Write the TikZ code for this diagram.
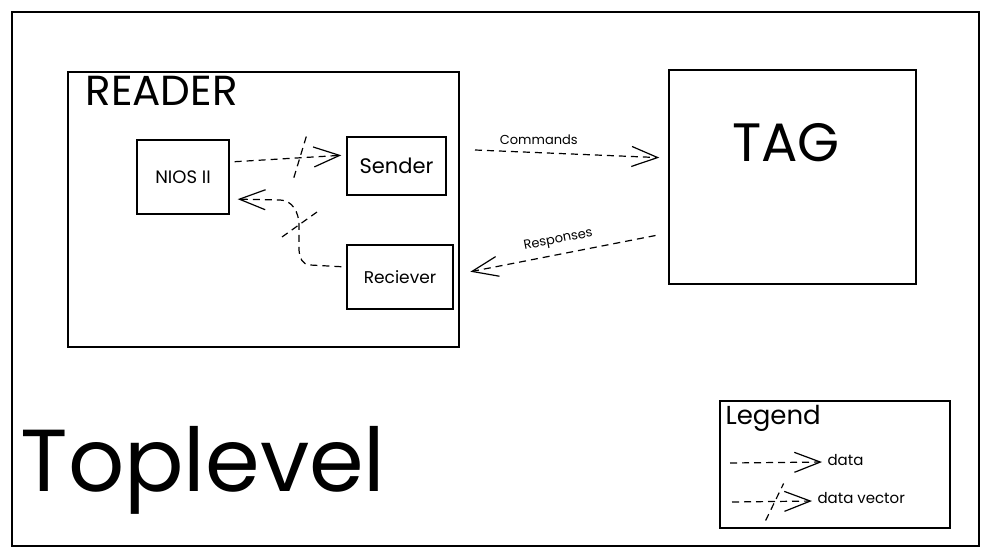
\documentclass[tikz,border=0pt]{standalone}
\usepackage{fontspec}
\setmainfont{Poppins}
\usetikzlibrary{arrows.meta,positioning,calc}

\tikzset{
  box/.style={draw, line width=1.4pt, inner sep=0pt},
  dataflow/.style={dash pattern=on 7pt off 5pt, line width=1.2pt,
    -{Straight Barb[length=26pt,width=20pt,line width=1.2pt]}},
  vecmark/.style={dash pattern=on 7pt off 5pt, line width=1.2pt},
  fs/.style={font=\fontsize{#1}{#1}\selectfont},
}

\begin{document}
\begin{tikzpicture}[x=1pt,y=-1pt]
  \useasboundingbox (0,0) rectangle (989,554);
  \draw[line width=1.4pt] (12,12) rectangle (979,546);
  % reader side
  \node[box, minimum width=391pt, minimum height=275pt] (reader) at (263.5,209.5) {};
  \node[anchor=north west, fs=42] (readerlbl) at (82,73) {READER};
  \node[box, minimum width=92pt, minimum height=74pt, fs=18] (nios) at (183,177) {NIOS II};
  \node[box, minimum width=99pt, minimum height=58pt, fs=21] (sender) at (396.5,166) {Sender};
  \node[box, minimum width=106pt, minimum height=64pt, fs=17] (receiver) at (400,277) {Reciever};
  % tag side
  \node[box, minimum width=247pt, minimum height=214pt] (tag) at (792.5,177) {};
  \node[fs=54] (taglbl) at (786,143) {TAG};
  % legend
  \node[box, minimum width=230pt, minimum height=127pt] (legend) at (835,464.5) {};
  \node[anchor=north west, fs=26] (legendlbl) at (722,402) {Legend};
  \node[anchor=west, fs=15] (ldata) at (824,460) {data};
  \node[anchor=west, fs=15] (lvec) at (814,498) {data vector};
  \node[fs=88] (toplevel) at (203,470) {Toplevel};
  % connectors
  \draw[dataflow, shorten <=5pt, shorten >=5pt] ([yshift=15pt]nios.east)
    -- coordinate[pos=0.61] (m1) ([yshift=11pt]sender.west);
  \draw[vecmark] ($(m1)+(-7,20)$) -- ($(m1)+(6,-23)$);
  \draw[dataflow, shorten <=5pt, shorten >=8pt] ([yshift=10pt]receiver.west)
    -- (310,265) to[out=180,in=270] (299,250) -- (299,225) coordinate (m2)
    to[out=90,in=0] (280,200) -- ([yshift=-22pt]nios.east);
  \draw[vecmark] ($(m2)+(-17,12)$) -- ($(m2)+(18,-13)$);
  \coordinate (cmdfrom) at (475,150);
  \draw[dataflow, shorten >=9pt] (cmdfrom) -- node[pos=0.33, above=4pt, fs=13] (cmdlbl) {Commands}
    ([yshift=19pt]tag.west);
  \draw[dataflow, shorten <=13pt, shorten >=17pt] ([yshift=-56pt]tag.west)
    -- node[pos=0.5, above=4pt, sloped, fs=13] (resplbl) {Responses} ([yshift=2pt]receiver.east);
  \coordinate (l1) at (730,463);
  \draw[dataflow, shorten >=2pt] (l1) -- ([yshift=-2pt]ldata.west);
  \coordinate (l2) at (732,502);
  \draw[dataflow, shorten >=2pt] (l2) -- coordinate[pos=0.52] (m3) ([yshift=-3pt]lvec.west);
  \draw[vecmark] ($(m3)+(-9,19)$) -- ($(m3)+(9,-18)$);
\end{tikzpicture}
\end{document}
